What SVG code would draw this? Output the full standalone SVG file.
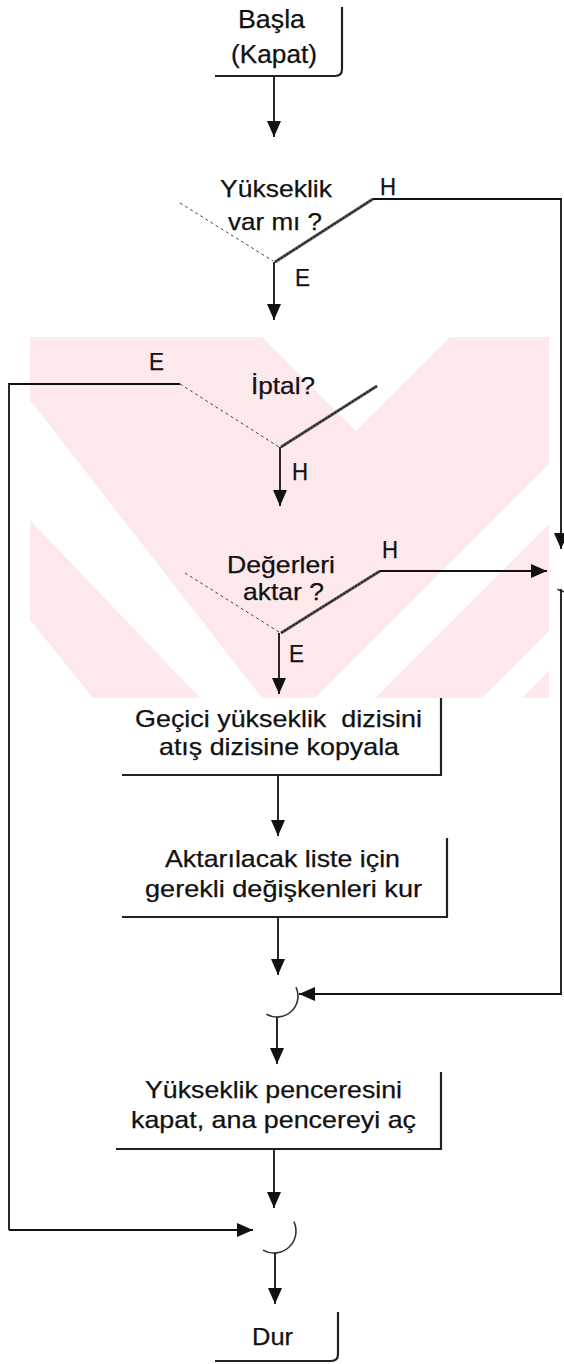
<svg xmlns="http://www.w3.org/2000/svg" width="564" height="1364" viewBox="0 0 564 1364">
<style>
  .t { font-family: "Liberation Sans", Arial, sans-serif; font-size: 24px; fill: #111; stroke: #111; stroke-width: 0.25; white-space: pre; }
  .edge { fill: none; stroke: #222; stroke-width: 2.2; }
  .ln { fill: none; stroke: #111; stroke-width: 1.8; }
  .arw { fill: none; stroke: #111; stroke-width: 1.8; marker-end: url(#ah); }
  .dash { fill: none; stroke: #444; stroke-width: 1; stroke-dasharray: 3 3; }
  .hatch { fill: none; stroke: #555; stroke-width: 3; }
  .hatch2 { fill: none; stroke: #111; stroke-width: 1.2; stroke-dasharray: 2 1.5; }
  .arc { fill: none; stroke: #333; stroke-width: 1.6; }
  .wm { fill: #fde8ec; }
  .wmw { fill: #ffffff; }
</style>
<defs>
  <marker id="ah" markerUnits="userSpaceOnUse" markerWidth="17" markerHeight="15" refX="16" refY="7" orient="auto">
    <path d="M0,0 L16,7 L0,14 z" fill="#111"/>
  </marker>
  <clipPath id="wmclip"><rect x="30" y="337" width="519" height="361"/></clipPath>
</defs>
<rect width="564" height="1364" fill="#ffffff"/>

<g id="watermark" clip-path="url(#wmclip)">
  <rect class="wm" x="30" y="337" width="519" height="361"/>
  <polygon class="wmw" points="262,337 356,431 450,337"/>
  <polygon class="wmw" points="30,400 262,698 200,698 30,520"/>
  <polygon class="wmw" points="30,620 93,698 30,698"/>
  <polygon class="wmw" points="315,698 375,698 580,493 580,433"/>
  <polygon class="wmw" points="482,698 522,698 580,640 580,600"/>
</g>

<g id="connectors">
  <line class="arw" x1="274" y1="76" x2="274" y2="137"/>
  <line class="dash" x1="180" y1="203" x2="273" y2="261"/>
  <line class="hatch" x1="275" y1="262" x2="373" y2="199"/>
  <line class="hatch2" x1="275" y1="262" x2="373" y2="199"/>
  <polyline class="arw" points="373,199 561,199 561,549"/>
  <line class="arw" x1="274" y1="262" x2="274" y2="320"/>

  <polyline class="ln" points="180,384 9,384 9,1230"/>
  <line class="arw" x1="9" y1="1230" x2="253" y2="1230"/>
  <line class="dash" x1="180" y1="384" x2="279" y2="447"/>
  <line class="hatch" x1="281" y1="447" x2="377" y2="386"/>
  <line class="hatch2" x1="281" y1="447" x2="377" y2="386"/>
  <line class="arw" x1="280" y1="447" x2="280" y2="506"/>

  <line class="dash" x1="185" y1="573" x2="279" y2="632"/>
  <line class="hatch" x1="281" y1="633" x2="380" y2="571"/>
  <line class="hatch2" x1="281" y1="633" x2="380" y2="571"/>
  <line class="arw" x1="380" y1="571" x2="547" y2="571"/>
  <line class="arw" x1="279" y1="633" x2="279" y2="694"/>

  <path class="arc" d="M587,562.1 A21,21 0 0 1 557.5,589.2"/>
  <polyline class="arw" points="561,589 561,994 299,994"/>

  <line class="arw" x1="278" y1="775" x2="278" y2="836"/>
  <line class="arw" x1="278" y1="917" x2="278" y2="975"/>

  <path class="arc" d="M296,987.1 A21,21 0 0 1 266.5,1014.2"/>
  <line class="arw" x1="277" y1="1017" x2="277" y2="1064"/>
  <line class="arw" x1="274" y1="1149" x2="274" y2="1208"/>

  <path class="arc" d="M293.9,1221.7 A22,22 0 0 1 263,1250.1"/>
  <line class="arw" x1="275" y1="1253" x2="275" y2="1304"/>
</g>

<g id="start">
  <path class="edge" d="M342,7 V69 Q342,76 335,76 H215"/>
  <text class="t" x="238" y="28" textLength="67" lengthAdjust="spacingAndGlyphs" style="font-size:25px">Başla</text>
  <text class="t" x="231" y="63" textLength="86" lengthAdjust="spacingAndGlyphs" style="font-size:25px">(Kapat)</text>
</g>

<g id="dec1">
  <text class="t" x="220" y="197" textLength="112" lengthAdjust="spacingAndGlyphs">Yükseklik</text>
  <text class="t" x="228" y="230" textLength="94" lengthAdjust="spacingAndGlyphs">var mı ?</text>
  <text class="t" x="380" y="195" textLength="16" lengthAdjust="spacingAndGlyphs">H</text>
  <text class="t" x="295" y="286" textLength="15" lengthAdjust="spacingAndGlyphs">E</text>
</g>

<g id="dec2">
  <text class="t" x="251" y="394" textLength="64" lengthAdjust="spacingAndGlyphs">İptal?</text>
  <text class="t" x="149" y="370" textLength="15" lengthAdjust="spacingAndGlyphs">E</text>
  <text class="t" x="292" y="480" textLength="16" lengthAdjust="spacingAndGlyphs">H</text>
</g>

<g id="dec3">
  <text class="t" x="227" y="573" textLength="108" lengthAdjust="spacingAndGlyphs">Değerleri</text>
  <text class="t" x="243" y="600" textLength="81" lengthAdjust="spacingAndGlyphs">aktar ?</text>
  <text class="t" x="382" y="558" textLength="16" lengthAdjust="spacingAndGlyphs">H</text>
  <text class="t" x="289" y="662" textLength="15" lengthAdjust="spacingAndGlyphs">E</text>
</g>

<g id="box1">
  <path class="edge" d="M441,698 V775 H122"/>
  <text class="t" x="135" y="727" textLength="287" lengthAdjust="spacingAndGlyphs">Geçici yükseklik  dizisini</text>
  <text class="t" x="159" y="755" textLength="240" lengthAdjust="spacingAndGlyphs">atış dizisine kopyala</text>
</g>

<g id="box2">
  <path class="edge" d="M447,838 V917 H122"/>
  <text class="t" x="165" y="867" textLength="235" lengthAdjust="spacingAndGlyphs">Aktarılacak liste için</text>
  <text class="t" x="145" y="897" textLength="277" lengthAdjust="spacingAndGlyphs">gerekli değişkenleri kur</text>
</g>

<g id="box3">
  <path class="edge" d="M441,1072 V1149 H116"/>
  <text class="t" x="145" y="1098" textLength="257" lengthAdjust="spacingAndGlyphs">Yükseklik penceresini</text>
  <text class="t" x="131" y="1128" textLength="285" lengthAdjust="spacingAndGlyphs">kapat, ana pencereyi aç</text>
</g>

<g id="stop">
  <path class="edge" d="M338,1312 V1354 Q338,1361 331,1361 H215"/>
  <text class="t" x="252" y="1345" textLength="41" lengthAdjust="spacingAndGlyphs">Dur</text>
</g>
</svg>
